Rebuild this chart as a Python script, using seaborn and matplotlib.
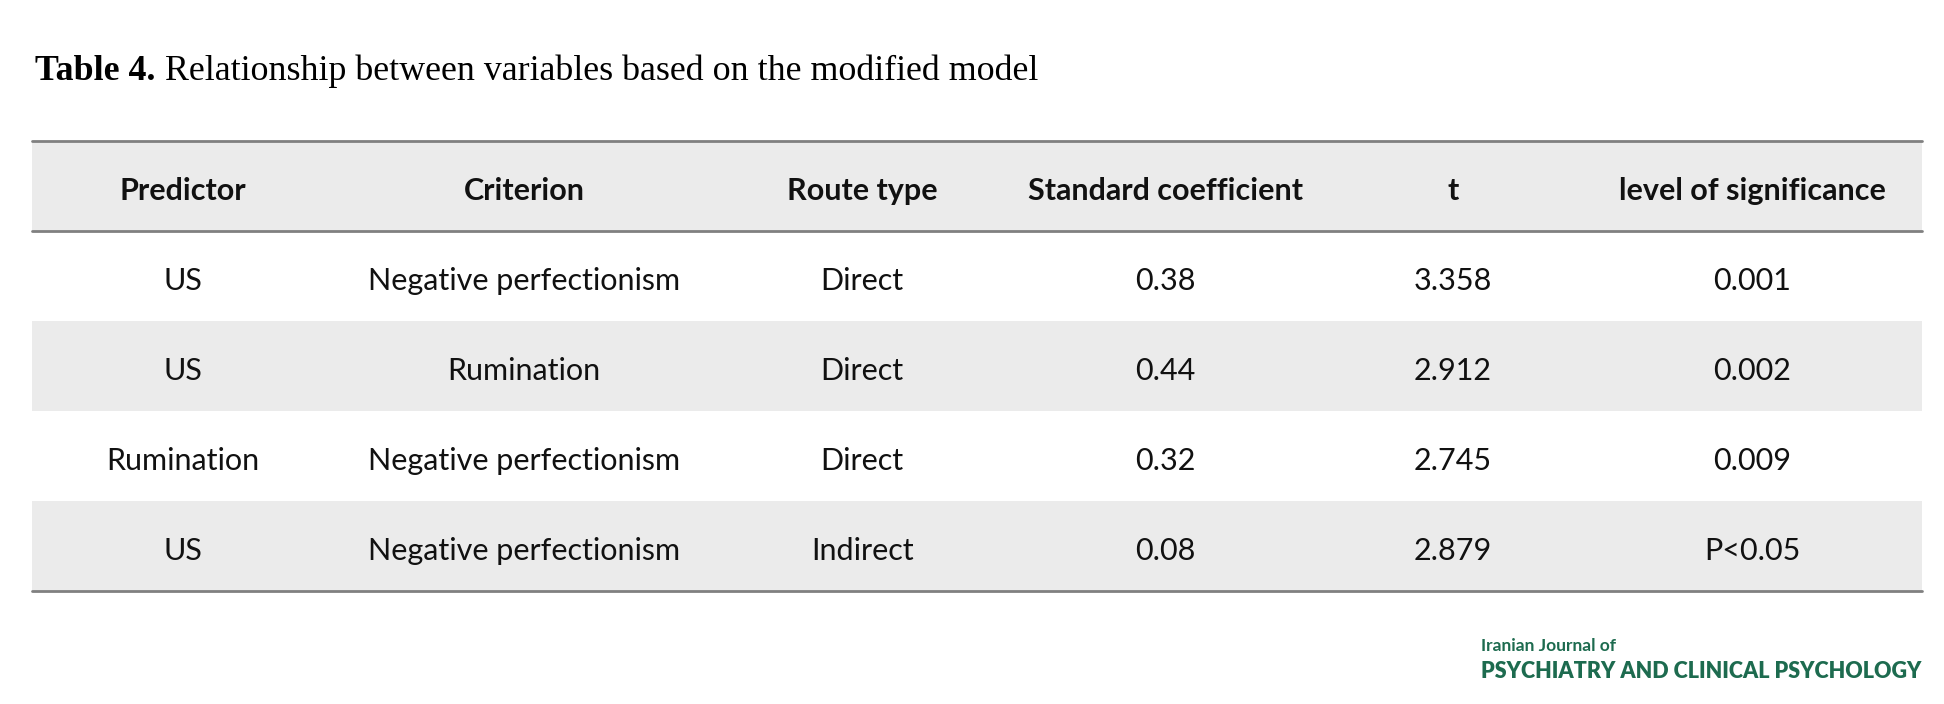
import numpy as np
import matplotlib
matplotlib.use("Agg")
import matplotlib.pyplot as plt
import seaborn as sns

# ---- data ----
headers = ["Predictor", "Criterion", "Route type", "Standard coefficient", "t", "level of significance"]
predictor = ["US", "US", "Rumination", "US"]
criterion = ["Negative perfectionism", "Rumination", "Negative perfectionism", "Negative perfectionism"]
route_type = ["Direct", "Direct", "Direct", "Indirect"]
std_coef = ["0.38", "0.44", "0.32", "0.08"]
t_values = ["3.358", "2.912", "2.745", "2.879"]
significance = ["0.001", "0.002", "0.009", "P<0.05"]

title_bold = "Table 4."
title_rest = " Relationship between variables based on the modified model"

sns.set_theme(style="white")
plt.rcParams['font.family'] = ['Lato', 'DejaVu Sans']

W, H = 1944, 704
fig = plt.figure(figsize=(W / 100, H / 100), dpi=100)

# table axes
x0, x1 = 32, 1922
y_top, y_bot = 141, 591
ax = fig.add_axes([x0 / W, 1 - y_bot / H, (x1 - x0) / W, (y_bot - y_top) / H])

# band pattern: header gray, then alternating white/gray
bands = np.array([[1], [0], [1], [0], [1]])
cmap = matplotlib.colors.ListedColormap(["#FFFFFF", "#EBEBEB"])
sns.heatmap(bands, ax=ax, cmap=cmap, cbar=False, vmin=0, vmax=1,
            xticklabels=False, yticklabels=False)
ax.set_xlim(0, 1)
ax.set_ylim(5, 0)

col_x = [0.0799, 0.2603, 0.4392, 0.5995, 0.7519, 0.9101]
dy = 0.06

for cx, h in zip(col_x, headers):
    ax.text(cx, 0.5 + dy, h, ha="center", va="center", fontsize=22,
            fontweight="bold", color="#111111")

columns = [predictor, criterion, route_type, std_coef, t_values, significance]
for ci, col in enumerate(columns):
    for ri, val in enumerate(col):
        ax.text(col_x[ci], ri + 1.5 + dy, val, ha="center", va="center",
                fontsize=22, color="#111111")

line_kw = dict(color="#808080", linewidth=2.0, clip_on=False)
ax.axhline(0, **line_kw)
ax.axhline(1, **line_kw)
ax.axhline(5, **line_kw)
for s in ax.spines.values():
    s.set_visible(False)

# title
ty = 1 - 71 / H
t1 = fig.text(35 / W, ty, title_bold, ha="left", va="center",
              fontsize=25.8, fontweight="bold", family="Liberation Serif",
              color="#000000")
fig.canvas.draw()
bb = t1.get_window_extent()
fig.text(bb.x1 / W, ty, title_rest, ha="left", va="center",
         fontsize=25.8, family="Liberation Serif", color="#000000")

# journal logo
green = "#1d6b4f"
fig.text(1481 / W, 1 - 646 / H, "Iranian Journal of", ha="left", va="center",
         fontsize=12.5, fontweight="bold", color=green)
fig.text(1481 / W, 1 - 672 / H, "PSYCHIATRY AND CLINICAL PSYCHOLOGY", ha="left",
         va="center", fontsize=15.5, fontweight="heavy", color=green)

fig.savefig("out.png", dpi=100, facecolor="white")
